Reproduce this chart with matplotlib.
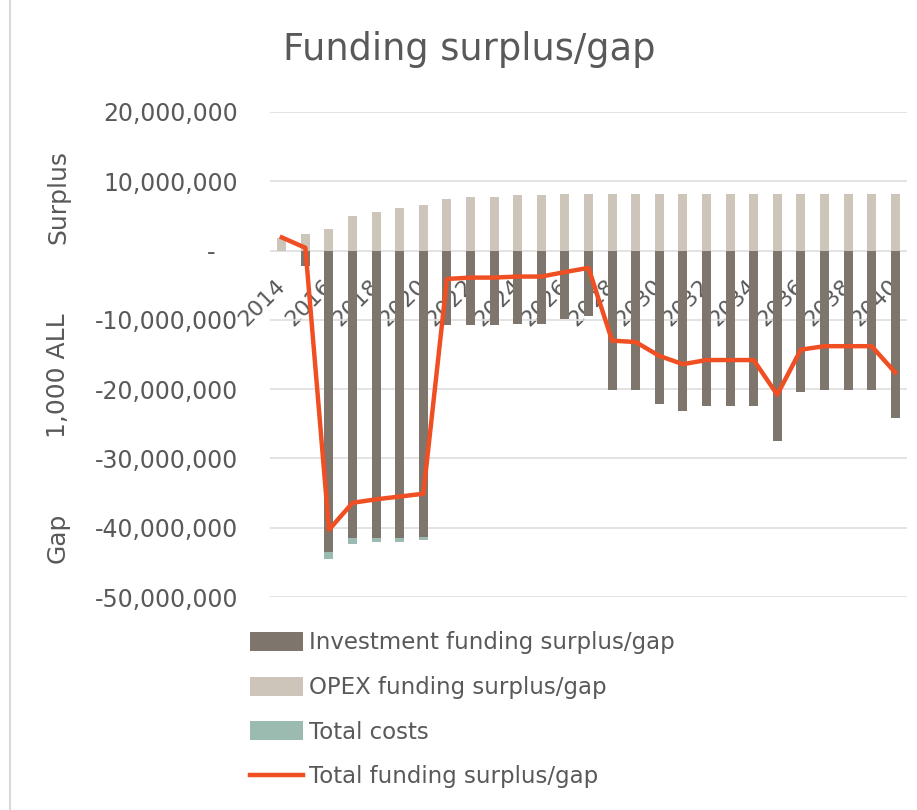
import matplotlib
matplotlib.use("Agg")
import matplotlib.pyplot as plt
from matplotlib.lines import Line2D
from matplotlib.ticker import FuncFormatter, FixedLocator
import numpy as np

WIDTH = 917
HEIGHT = 810
DPI = 100

years = list(range(2014, 2041))
# values in million ALL (x 1,000)
investment = [0.0, -2.2, -43.5, -41.5, -41.5, -41.5, -41.4, -10.7, -10.7, -10.7,
              -10.6, -10.6, -9.9, -9.5, -20.1, -20.1, -22.1, -23.1, -22.5, -22.5,
              -22.5, -27.5, -20.4, -20.1, -20.1, -20.1, -24.1]
opex = [1.8, 2.4, 3.1, 5.0, 5.5, 6.1, 6.6, 7.5, 7.8, 7.8, 8.0, 8.0, 8.2, 8.2,
        8.2, 8.2, 8.2, 8.2, 8.2, 8.2, 8.2, 8.2, 8.2, 8.2, 8.2, 8.2, 8.2]
total_costs = [0.0, 0.0, -1.0, -0.9, -0.5, -0.5, -0.4, 0, 0, 0, 0, 0, 0, 0,
               0, 0, 0, 0, 0, 0, 0, 0, 0, 0, 0, 0, 0]
total_gap = [1.9, 0.4, -40.3, -36.4, -35.9, -35.5, -35.1, -4.1, -3.9, -3.9,
             -3.75, -3.75, -3.1, -2.5, -13.0, -13.2, -15.2, -16.4, -15.8, -15.8,
             -15.8, -20.8, -14.3, -13.8, -13.8, -13.8, -17.6]

TEXT = "#595959"
C_INV = "#7e756c"
C_OPEX = "#cdc5ba"
C_COST = "#9bbab0"
C_LINE = "#f04f23"


def fmt_y(v, pos):
    if abs(v) < 1:
        return "-   "
    return "{:,.0f}".format(v)


def main():
    plt.rcParams['font.family'] = 'DejaVu Sans'
    fig = plt.figure(figsize=(WIDTH / DPI, HEIGHT / DPI), dpi=DPI)
    ax = fig.add_axes([270 / WIDTH, 1 - 597 / HEIGHT, 637 / WIDTH, 485 / HEIGHT])

    x = np.arange(len(years))
    inv = np.array(investment) * 1e6
    op = np.array(opex) * 1e6
    co = np.array(total_costs) * 1e6
    tot = np.array(total_gap) * 1e6
    w = 0.38

    ax.bar(x, inv, w, color=C_INV, label="Investment funding surplus/gap", zorder=2)
    ax.bar(x, op, w, color=C_OPEX, label="OPEX funding surplus/gap", zorder=2)
    ax.bar(x, co, w, bottom=inv, color=C_COST, label="Total costs", zorder=2)
    ax.plot(x, tot, color=C_LINE, lw=3.2, label="Total funding surplus/gap", zorder=3)

    ax.set_xlim(-0.5, len(years) - 0.5)
    ax.set_ylim(-50e6, 20e6)
    ax.set_yticks(np.arange(-50e6, 20e6 + 1, 10e6))
    ax.yaxis.set_major_formatter(FuncFormatter(fmt_y))
    ax.grid(axis='y', color='#dedede', lw=1.2, zorder=0)
    ax.set_axisbelow(True)

    for s in ax.spines.values():
        s.set_visible(False)
    ax.spines['bottom'].set_position(('data', 0))

    ticks = [i for i, yr in enumerate(years) if yr % 2 == 0]
    ax.xaxis.set_major_locator(FixedLocator(ticks))
    ax.set_xticklabels([str(years[i]) for i in ticks])
    ax.tick_params(axis='x', length=0, pad=23, labelsize=16, labelcolor=TEXT)
    ax.tick_params(axis='y', length=0, pad=23, labelsize=17, labelcolor=TEXT)
    for lab in ax.get_xticklabels():
        lab.set_rotation(45)
        lab.set_ha('right')
        lab.set_va('center')
        lab.set_rotation_mode('anchor')

    fig.text(469 / WIDTH, 1 - 50 / HEIGHT, "Funding surplus/gap", fontsize=26.5,
             color=TEXT, ha='center', va='center')
    for txt, yy in [("Surplus", 197), ("1,000 ALL", 376), ("Gap", 538)]:
        fig.text(58 / WIDTH, 1 - yy / HEIGHT, txt, fontsize=18, color=TEXT,
                 rotation=90, ha='center', va='center')

    fig.add_artist(Line2D([10 / WIDTH, 10 / WIDTH], [0, 1], color='#d9d9d9', lw=1.5))

    handles, labels = ax.get_legend_handles_labels()
    order = [1, 2, 3, 0]
    leg = ax.legend([handles[i] for i in order], [labels[i] for i in order],
                    loc='upper left', bbox_to_anchor=(241 / WIDTH, 1 - 622 / HEIGHT),
                    bbox_transform=fig.transFigure, frameon=False, fontsize=16.5,
                    handlelength=2.3, handleheight=0.9, handletextpad=0.25,
                    labelspacing=0.95, borderaxespad=0)
    for t in leg.get_texts():
        t.set_color(TEXT)

    fig.savefig("out.png", dpi=DPI, facecolor='white')
    plt.close(fig)


if __name__ == "__main__":
    main()
